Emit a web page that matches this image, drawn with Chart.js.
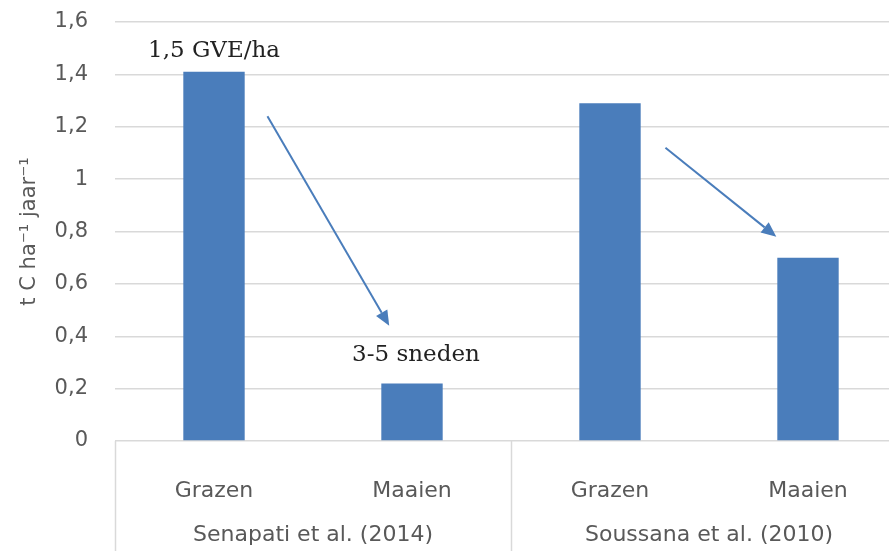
<!DOCTYPE html>
<html>
<head>
<meta charset="utf-8">
<script src="https://cdn.jsdelivr.net/npm/chart.js@4.4.1/dist/chart.umd.min.js"></script>
<style>
  html, body { margin: 0; padding: 0; background: #fff; overflow: hidden; }
  #wrap { position: relative; width: 910px; height: 551px; }
</style>
</head>
<body>
<div id="wrap"><canvas id="c"></canvas></div>
<script>
// ---- data ----
const categories = ['Grazen', 'Maaien', 'Grazen', 'Maaien'];
const values = [1.41, 0.22, 1.29, 0.70];
const groups = ['Senapati et al. (2014)', 'Soussana et al. (2010)'];
const groupSizes = [2, 2];
const yTickLabels = ['0', '0,2', '0,4', '0,6', '0,8', '1', '1,2', '1,4', '1,6'];
const yTitle = 't C ha\u207B\u00B9 jaar\u207B\u00B9';
// annotations in data space: [category index, value]
const annotationTexts = ['1,5 GVE/ha', '3-5 sneden'];
const annotationAnchors = [[0, 1.49], [1.02, 0.328]];
const arrowStarts = [[0.27, 1.24], [2.28, 1.12]];
const arrowEnds = [[0.885, 0.44], [2.84, 0.78]];

const BLUE = '#4a7dbb';
const GRID = '#d9d9d9';
const TXT = '#595959';

const overlay = {
  id: 'overlay',
  afterDraw(chart) {
    const ctx = chart.ctx;
    const xs = chart.scales.x, ys = chart.scales.y;
    const area = chart.chartArea;
    const H = chart.height;
    ctx.save();
    // group separators
    ctx.strokeStyle = GRID;
    ctx.lineWidth = 1.5;
    let idx = 0;
    const bounds = [idx];
    groupSizes.forEach(n => { idx += n; bounds.push(idx); });
    bounds.forEach(b => {
      const px = Math.round(xs.getPixelForValue(b - 0.5)) + 0.5;
      ctx.beginPath();
      ctx.moveTo(px, area.bottom);
      ctx.lineTo(px, H);
      ctx.stroke();
    });
    // group labels
    ctx.fillStyle = TXT;
    ctx.font = '22px "DejaVu Sans"';
    ctx.textAlign = 'center';
    ctx.textBaseline = 'middle';
    for (let g = 0; g < groups.length; g++) {
      const a = xs.getPixelForValue(bounds[g] - 0.5);
      const b = xs.getPixelForValue(bounds[g + 1] - 0.5);
      ctx.fillText(groups[g], (a + b) / 2, area.bottom + 94);
    }
    // annotation texts
    ctx.fillStyle = '#222';
    ctx.font = '23px "DejaVu Serif"';
    annotationTexts.forEach((t, i) => {
      const p = annotationAnchors[i];
      ctx.fillText(t, xs.getPixelForValue(p[0]), ys.getPixelForValue(p[1]));
    });
    // arrows
    ctx.strokeStyle = BLUE;
    ctx.fillStyle = BLUE;
    ctx.lineWidth = 2;
    arrowStarts.forEach((s, i) => {
      const e = arrowEnds[i];
      const x1 = xs.getPixelForValue(s[0]), y1 = ys.getPixelForValue(s[1]);
      const x2 = xs.getPixelForValue(e[0]), y2 = ys.getPixelForValue(e[1]);
      const ang = Math.atan2(y2 - y1, x2 - x1);
      const hl = 15, hw = 6.5;
      const bx = x2 - hl * Math.cos(ang), by = y2 - hl * Math.sin(ang);
      ctx.beginPath();
      ctx.moveTo(x1, y1);
      ctx.lineTo(bx, by);
      ctx.stroke();
      ctx.beginPath();
      ctx.moveTo(x2, y2);
      ctx.lineTo(bx + hw * Math.sin(ang), by - hw * Math.cos(ang));
      ctx.lineTo(bx - hw * Math.sin(ang), by + hw * Math.cos(ang));
      ctx.closePath();
      ctx.fill();
    });
    ctx.restore();
  }
};

new Chart(document.getElementById('c'), {
  type: 'bar',
  data: {
    labels: categories,
    datasets: [{
      data: values,
      backgroundColor: BLUE,
      borderWidth: 0,
      barPercentage: 0.31,
      categoryPercentage: 1.0
    }]
  },
  options: {
    responsive: true,
    maintainAspectRatio: false,
    animation: false,
    events: [],
    layout: { padding: { left: 0, top: 22, right: 3, bottom: 0 } },
    plugins: { legend: { display: false }, tooltip: { enabled: false } },
    scales: {
      x: {
        grid: { display: false },
        border: { display: false },
        ticks: {
          color: TXT,
          font: { family: 'DejaVu Sans', size: 22 },
          padding: 29,
          maxRotation: 0,
          autoSkip: false
        },
        afterFit(scale) { scale.height = 110; }
      },
      y: {
        min: 0,
        max: 1.6,
        grid: { color: GRID, lineWidth: 1.5, drawTicks: false },
        border: { display: false },
        ticks: {
          stepSize: 0.2,
          color: TXT,
          font: { family: 'DejaVu Sans', size: 21 },
          padding: 27,
          callback: (v, i) => yTickLabels[i]
        },
        title: {
          display: true,
          text: yTitle,
          color: TXT,
          font: { family: 'DejaVu Sans', size: 21 },
          padding: { top: 17, bottom: 0 }
        },
        afterFit(scale) {
          scale.width = 115;
          scale.paddingTop = 0;
          scale.paddingBottom = 0;
        }
      }
    }
  },
  plugins: [overlay]
});
</script>
</body>
</html>
